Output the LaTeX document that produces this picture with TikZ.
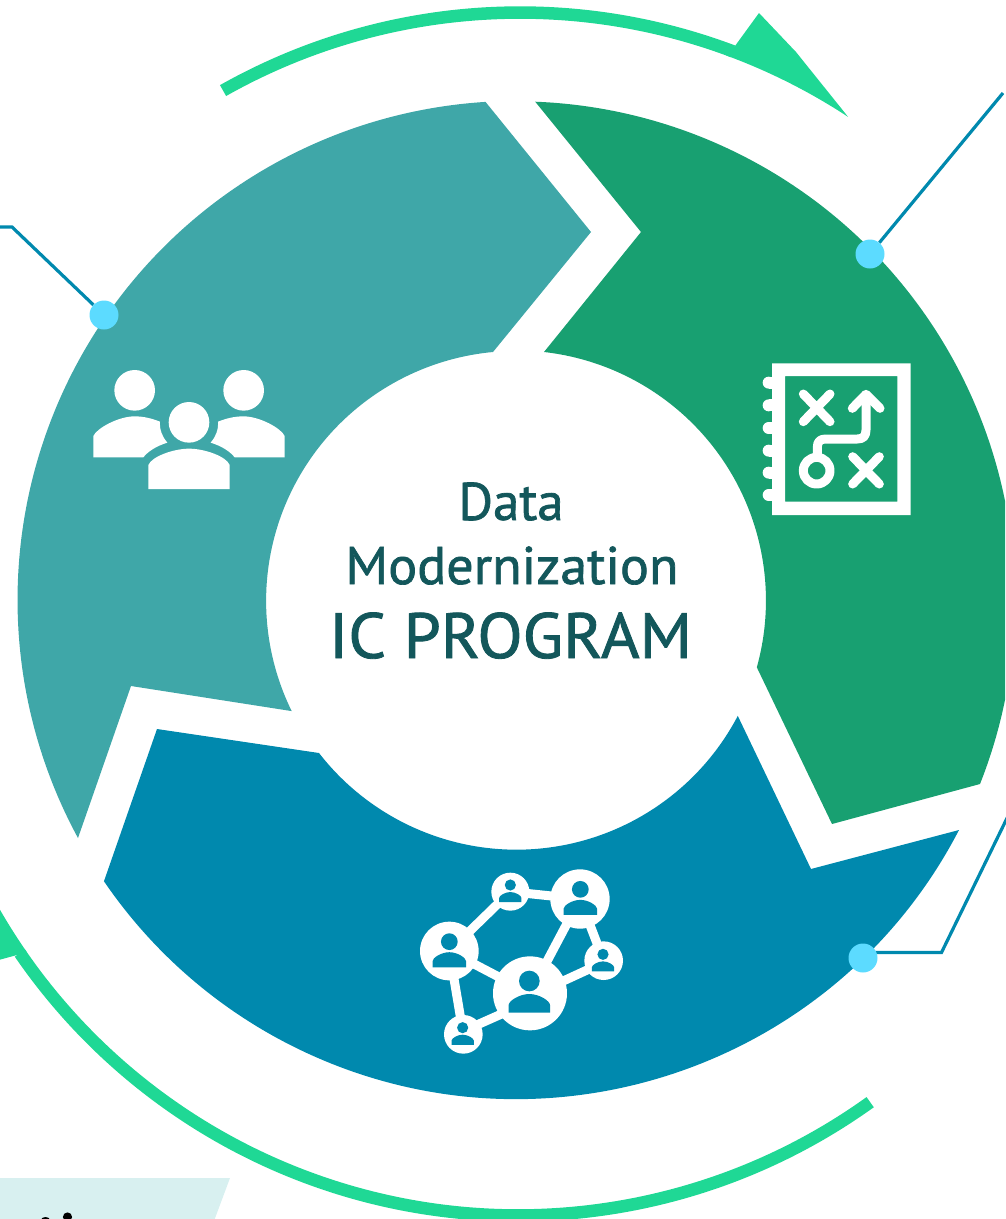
\documentclass[tikz,border=0pt]{standalone}
\usepackage{fontspec}
\setmainfont{PT Sans}
\newfontfamily\titlefont[FakeBold=1.3]{PT Sans}
\usetikzlibrary{backgrounds,calc}
\definecolor{cteal}{HTML}{3FA7A8}
\definecolor{cgreen}{HTML}{18A071}
\definecolor{cblue}{HTML}{0089AE}
\definecolor{cring}{HTML}{1FD895}
\definecolor{cdot}{HTML}{5CDBFF}
\definecolor{ctext}{HTML}{13575B}
\definecolor{cpale}{HTML}{D8F0F0}
\tikzset{
  dotnode/.style={circle,fill=cdot,inner sep=0pt,minimum size=29pt},
  leader/.style={draw=cblue,line width=3.2pt,line join=miter},
  ringband/.style={draw=cring,line width=12.5pt},
  iconline/.style={draw=white,line width=9pt,line cap=round,line join=round},
  netline/.style={draw=white,line width=9pt},
  titletext/.style={text=ctext,inner sep=0pt,anchor=base}
}
\newcommand{\netperson}[3]{%
  \begin{scope}[shift={(#1,#2)},scale=#3]
    \fill[cblue] (0,0) circle[radius=31];
    \fill[cblue] (-62,95) -- (-62,72) .. controls (-62,60) and (-30,39) .. (0,39)
      .. controls (30,39) and (62,60) .. (62,72) -- (62,95) -- cycle;
  \end{scope}}
\begin{document}
\begin{tikzpicture}[x=1pt,y=1pt,yscale=-1]
\clip (0,0) rectangle (1005,1219);

% ring segments
\fill[cteal] (78,838) arc[start angle=151.5,end angle=266.44,radius=499]
  -- (591,232) -- (493,352) arc[start angle=264.7,end angle=153.85,radius=250]
  -- (131,686) -- cycle;
\fill[cgreen] (980,784) arc[start angle=21.6,end angle=-87.8,radius=499]
  -- (641,232) -- (544,352) arc[start angle=-83.56,end angle=15.53,radius=250]
  -- (832,824) -- cycle;
\fill[cblue] (959,830) arc[start angle=27.44,end angle=145.7,radius=499]
  -- (157,729) -- (319,753) arc[start angle=142.17,end angle=27.7,radius=250]
  -- (811,869) -- cycle;

% outer arrows
\draw[ringband] (520,616.5) ++(-119.45:604) arc[start angle=-119.45,end angle=-69.35,radius=604];
\fill[cring] (520,616.5) ++(-69.8:597.75) arc[start angle=-69.8,end angle=-56.71,radius=597.75]
  -- (796,52) -- (759,13) -- (735,46) -- cycle;
\draw[ringband] (518,611.5) ++(54.33:604) arc[start angle=54.33,end angle=145.56,radius=604];
\fill[cring] (518,611.5) ++(145.3:597.75) arc[start angle=145.3,end angle=151,radius=597.75]
  -- (-5,961) -- (17,955) -- cycle;

% dots and leaders
\node[dotnode] (dotleft) at (104,315) {};
\node[dotnode] (dottop) at (870,254) {};
\node[dotnode] (dotbottom) at (863,958) {};
\coordinate (leftelbow) at (12,227);
\coordinate (leftend) at (-2,227);
\coordinate (topend) at (1003,93);
\coordinate (bottomelbow) at (941.5,952.5);
\coordinate (bottomend) at (1010,812);
\begin{scope}[on background layer]
  \draw[leader] (dotleft) -- (leftelbow) -- (leftend);
  \draw[leader] (dottop) -- (topend);
  \draw[leader] (dotbottom.center |- bottomelbow) -- (bottomelbow) -- (bottomend);
\end{scope}

% title
\node[titletext] (titleA) at (511,520) {\titlefont\fontsize{53}{53}\selectfont Data};
\node[titletext] (titleB) at (512,584) {\titlefont\fontsize{53}{53}\selectfont\scalebox{1.02}[1]{Modernization}};
\node[titletext] (titleC) at (510.5,658) {\titlefont\fontsize{64}{64}\selectfont\scalebox{1.035}[1]{IC PROGRAM}};

% people icon
\begin{scope}[shift={(80,350)},scale=1/3]
  \fill[white] (164,121) circle[radius=61] (491,121) circle[radius=61] (327,217) circle[radius=61];
  \fill[white] (205,417) -- (205,345) .. controls (215,320) and (280,296) .. (327,296)
     .. controls (375,296) and (440,320) .. (449,345) -- (449,417) -- cycle;
  \fill[white] (40,322) -- (40,258) .. controls (50,235) and (115,199) .. (164,199)
     .. controls (190,199) and (215,205) .. (240,215) .. controls (238,240) and (248,262) .. (262,278)
     .. controls (230,288) and (205,303) .. (190,322) -- cycle;
  \fill[white] (614,322) -- (614,258) .. controls (604,235) and (539,199) .. (490,199)
     .. controls (464,199) and (439,205) .. (414,215) .. controls (416,240) and (406,262) .. (392,278)
     .. controls (424,288) and (449,303) .. (464,322) -- cycle;
\end{scope}

% plan icon
\begin{scope}[shift={(740,340)},scale=1/3]
  \fill[white,even odd rule] (96,70) rectangle (512,525) (135,108) rectangle (472,485);
  \foreach \yy in {128,196,264,332,398,465} {
    \fill[white] (86,\yy) circle[radius=18];
    \fill[white] (86,\yy-18) rectangle (100,\yy+18);
  }
  \draw[iconline] (190,162) -- (270,245) (270,162) -- (190,245);
  \draw[iconline] (338,350) -- (418,432) (418,350) -- (338,432);
  \draw[iconline] (230,392) circle[radius=40];
  \draw[iconline] (232,345) -- (232,322) .. controls (232,305) and (240,297) .. (257,297)
     -- (352,297) .. controls (370,297) and (378,288) .. (378,270) -- (378,165);
  \draw[iconline] (337,205) -- (378,163) -- (420,205);
\end{scope}

% network icon
\begin{scope}[shift={(400,850)},scale=1/3]
  \coordinate (netA) at (390,430);
  \coordinate (netB) at (148,303);
  \coordinate (netC) at (540,147);
  \coordinate (netD) at (331,125);
  \coordinate (netE) at (611,332);
  \coordinate (netF) at (190,553);
  \coordinate (netAe) at (390,439);
  \coordinate (netEa) at (611,337);
  \coordinate (netAf) at (390,454);
  \coordinate (netFa) at (190,543);
  \draw[netline] (netD) -- (netB) (netD) -- (netC) (netC) -- (netA) (netC) -- (netE)
     (netAe) -- (netEa) (netA) -- (netB) (netAf) -- (netFa) (netB) -- (netF);
  \fill[white] (netA) circle[radius=111] (netB) circle[radius=88] (netC) circle[radius=89]
     (netD) circle[radius=57] (netE) circle[radius=58] (netF) circle[radius=58];
  \netperson{388}{393}{1}
  \netperson{148}{275}{0.81}
  \netperson{541}{118}{0.81}
  \netperson{331}{105}{0.54}
  \netperson{609}{313}{0.54}
  \netperson{188}{533}{0.54}
\end{scope}

% pale panel at the bottom edge
\fill[cpale] (-2,1178) -- (230,1178) -- (214,1221) -- (-2,1221) -- cycle;
\fill[black] (67.5,1217) circle[radius=4.6];
\fill[black] (45.5,1220) ellipse[x radius=4.5,y radius=3];
\end{tikzpicture}
\end{document}
